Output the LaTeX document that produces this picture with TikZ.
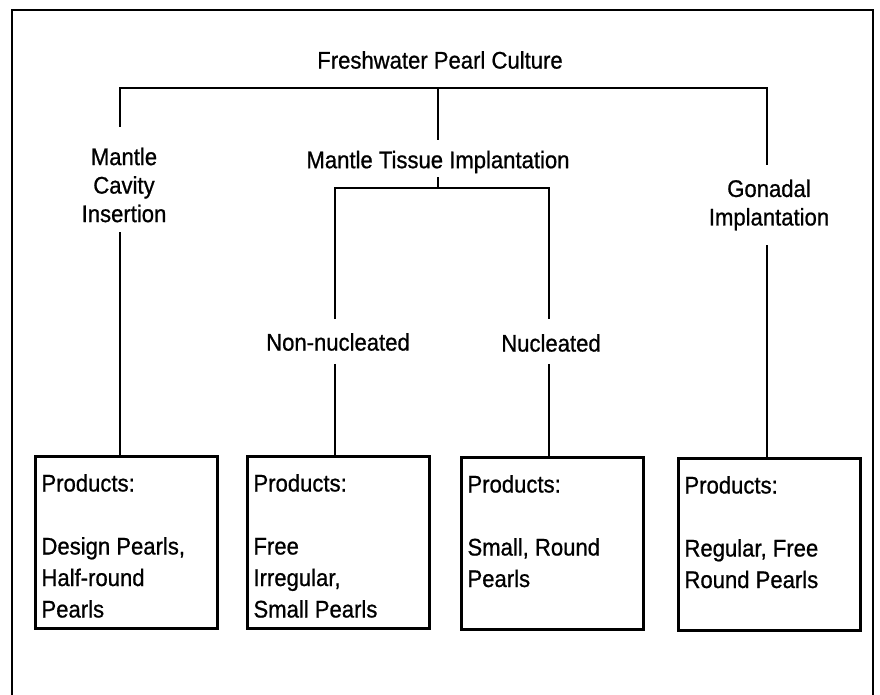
\documentclass[tikz,border=0pt]{standalone}
\usepackage{fontspec}
\setmainfont{Liberation Sans}[FakeStretch=0.92,FakeBold=0.8]
\usepackage{tikz}
\usetikzlibrary{calc}

\newcommand{\prodlist}[1]{\parbox[t][172pt][t]{170pt}{\rule{0pt}{35pt}#1}}

\begin{document}
\begin{tikzpicture}[x=1pt, y=-1pt, line width=2pt,
	lbl/.style={font=\fontsize{24}{28.5}\selectfont, align=center, inner sep=0pt},
	prodbox/.style={draw, line width=3pt, anchor=north west, inner xsep=6pt, inner ysep=0pt,
		font=\fontsize{24}{31.5}\selectfont}]
	\useasboundingbox (0,0) rectangle (880,695);
	\draw[line width=2.5pt] (12,695) -- (12,10) -- (873,10) -- (873,695);

	\node[lbl] (title) at (440,60) {Freshwater Pearl Culture};
	\node[lbl] (cavity) at (124,185) {Mantle\\Cavity\\Insertion};
	\node[lbl] (mti) at (438,162) {Mantle Tissue Implantation};
	\node[lbl] (gonadal) at (769,205) {Gonadal\\Implantation};
	\node[lbl] (nonnuc) at (338,342) {Non-nucleated};
	\node[lbl] (nuc) at (551,343) {Nucleated};

	\node[prodbox] (b1) at (34,455) {\prodlist{Products:\\[31.5pt]Design Pearls,\\Half-round\\Pearls}};
	\node[prodbox] (b2) at (246,455) {\prodlist{Products:\\[31.5pt]Free\\Irregular,\\Small Pearls}};
	\node[prodbox] (b3) at (460,456) {\prodlist{Products:\\[31.5pt]Small, Round\\Pearls}};
	\node[prodbox] (b4) at (677,457) {\prodlist{Products:\\[31.5pt]Regular, Free\\Round Pearls}};

	\coordinate (jl) at (120,88);
	\coordinate (jm) at (438,88);
	\coordinate (jr) at (767,88);
	\coordinate (jn) at (335,188);
	\coordinate (jc) at (549,188);

	\draw ($(jl |- cavity.north)+(0,-20)$) -- (jl) -- (jr) -- ($(jr |- gonadal.north)+(0,-14)$);
	\draw (jm) -- ($(mti.north)+(0,-10)$);
	\draw ($(mti.south)+(0,3)$) -- (jm |- jn);
	\draw ($(jn |- nonnuc.north)+(0,-13)$) -- (jn) -- (jc) -- ($(jc |- nuc.north)+(0,-14)$);

	\draw ($(jl |- cavity.south)+(0,9)$) -- (jl |- b1.north);
	\draw ($(jn |- nonnuc.south)+(0,12)$) -- (jn |- b2.north);
	\draw ($(jc |- nuc.south)+(0,11)$) -- (jc |- b3.north);
	\draw ($(jr |- gonadal.south)+(0,14)$) -- (jr |- b4.north);
\end{tikzpicture}
\end{document}
